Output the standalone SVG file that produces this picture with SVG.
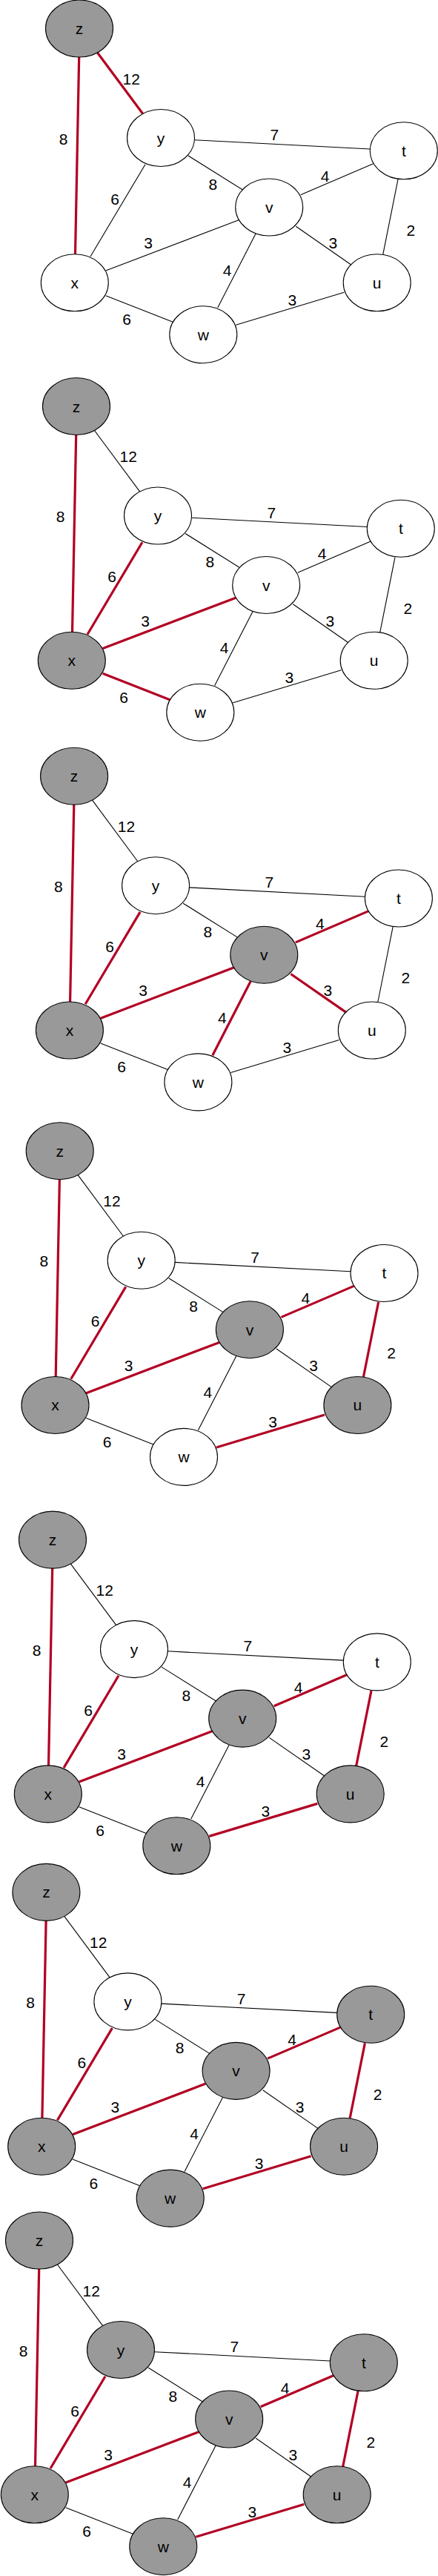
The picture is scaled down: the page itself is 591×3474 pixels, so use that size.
<svg xmlns="http://www.w3.org/2000/svg" width="591" height="3474" viewBox="0 0 591 3474">
<style>
.e{stroke:#000;stroke-width:1.1;fill:none}
.r{stroke:#B20023;stroke-width:3.2;fill:none}
.w{fill:#fff;stroke:#000;stroke-width:1.1}
.g{fill:#999;stroke:#000;stroke-width:1.1}
.l{font-family:"Liberation Sans",Arial,sans-serif;font-size:21px;fill:#000;text-anchor:middle}
.t{font-family:"Liberation Sans",Arial,sans-serif;font-size:21px;fill:#000;text-anchor:middle}
</style>
<rect width="591" height="3474" fill="#fff"/>

<!-- Panel 1 -->
<g id="p1" transform="translate(0,0)">
<g id="p1-edges">
<line class="r" x1="106.7" y1="76.5" x2="101.5" y2="343"/>
<line class="r" x1="130.7" y1="70" x2="193.3" y2="154.3"/>
<line class="e" x1="262.5" y1="188.7" x2="499.3" y2="201"/>
<line class="e" x1="254" y1="210" x2="327" y2="255.7"/>
<line class="e" x1="196" y1="221.7" x2="122" y2="346"/>
<line class="e" x1="405.7" y1="262.7" x2="503.7" y2="220.7"/>
<line class="e" x1="142.7" y1="365" x2="322" y2="296.7"/>
<line class="e" x1="399.3" y1="305.3" x2="473.3" y2="356.7"/>
<line class="e" x1="345" y1="315.3" x2="293.7" y2="415"/>
<line class="e" x1="537" y1="242" x2="516.7" y2="343.3"/>
<line class="e" x1="142.7" y1="398.7" x2="233.3" y2="434.3"/>
<line class="e" x1="318.3" y1="438.3" x2="464.3" y2="394.3"/>
<text class="l" x="177.3" y="113.5">12</text>
<text class="l" x="85.7" y="194.8">8</text>
<text class="l" x="370.3" y="189.2">7</text>
<text class="l" x="287.3" y="255.5">8</text>
<text class="l" x="155" y="275.8">6</text>
<text class="l" x="438.7" y="244.8">4</text>
<text class="l" x="200" y="335.2">3</text>
<text class="l" x="449.3" y="335.2">3</text>
<text class="l" x="554.3" y="318.2">2</text>
<text class="l" x="306.7" y="371.5">4</text>
<text class="l" x="394.3" y="411.8">3</text>
<text class="l" x="171" y="438.2">6</text>
</g>
<g id="p1-z"><ellipse class="g" cx="107" cy="38.5" rx="45.5" ry="38.5"/><text class="t" x="107" y="46">z</text></g>
<g id="p1-y"><ellipse class="w" cx="217" cy="186" rx="45.5" ry="38.5"/><text class="t" x="217" y="193.5">y</text></g>
<g id="p1-t"><ellipse class="w" cx="544.8" cy="203.3" rx="45.5" ry="38.5"/><text class="t" x="544.8" y="210.8">t</text></g>
<g id="p1-v"><ellipse class="w" cx="363.2" cy="279.5" rx="45.5" ry="38.5"/><text class="t" x="363.2" y="287">v</text></g>
<g id="p1-x"><ellipse class="w" cx="100.8" cy="381.3" rx="45.5" ry="38.5"/><text class="t" x="100.8" y="388.8">x</text></g>
<g id="p1-u"><ellipse class="w" cx="508.7" cy="381.3" rx="45.5" ry="38.5"/><text class="t" x="508.7" y="388.8">u</text></g>
<g id="p1-w"><ellipse class="w" cx="274.3" cy="451.2" rx="45.5" ry="38.5"/><text class="t" x="274.3" y="458.7">w</text></g>
</g>

<!-- Panel 2 -->
<g id="p2" transform="translate(-4,509.5)">
<g id="p2-edges">
<line class="r" x1="106.7" y1="76.5" x2="101.5" y2="343"/>
<line class="e" x1="130.7" y1="70" x2="193.3" y2="154.3"/>
<line class="e" x1="262.5" y1="188.7" x2="499.3" y2="201"/>
<line class="e" x1="254" y1="210" x2="327" y2="255.7"/>
<line class="r" x1="196" y1="221.7" x2="122" y2="346"/>
<line class="e" x1="405.7" y1="262.7" x2="503.7" y2="220.7"/>
<line class="r" x1="142.7" y1="365" x2="322" y2="296.7"/>
<line class="e" x1="399.3" y1="305.3" x2="473.3" y2="356.7"/>
<line class="e" x1="345" y1="315.3" x2="293.7" y2="415"/>
<line class="e" x1="537" y1="242" x2="516.7" y2="343.3"/>
<line class="r" x1="142.7" y1="398.7" x2="233.3" y2="434.3"/>
<line class="e" x1="318.3" y1="438.3" x2="464.3" y2="394.3"/>
<text class="l" x="177.3" y="113.5">12</text>
<text class="l" x="85.7" y="194.8">8</text>
<text class="l" x="370.3" y="189.2">7</text>
<text class="l" x="287.3" y="255.5">8</text>
<text class="l" x="155" y="275.8">6</text>
<text class="l" x="438.7" y="244.8">4</text>
<text class="l" x="200" y="335.2">3</text>
<text class="l" x="449.3" y="335.2">3</text>
<text class="l" x="554.3" y="318.2">2</text>
<text class="l" x="306.7" y="371.5">4</text>
<text class="l" x="394.3" y="411.8">3</text>
<text class="l" x="171" y="438.2">6</text>
</g>
<g id="p2-z"><ellipse class="g" cx="107" cy="38.5" rx="45.5" ry="38.5"/><text class="t" x="107" y="46">z</text></g>
<g id="p2-y"><ellipse class="w" cx="217" cy="186" rx="45.5" ry="38.5"/><text class="t" x="217" y="193.5">y</text></g>
<g id="p2-t"><ellipse class="w" cx="544.8" cy="203.3" rx="45.5" ry="38.5"/><text class="t" x="544.8" y="210.8">t</text></g>
<g id="p2-v"><ellipse class="w" cx="363.2" cy="279.5" rx="45.5" ry="38.5"/><text class="t" x="363.2" y="287">v</text></g>
<g id="p2-x"><ellipse class="g" cx="100.8" cy="381.3" rx="45.5" ry="38.5"/><text class="t" x="100.8" y="388.8">x</text></g>
<g id="p2-u"><ellipse class="w" cx="508.7" cy="381.3" rx="45.5" ry="38.5"/><text class="t" x="508.7" y="388.8">u</text></g>
<g id="p2-w"><ellipse class="w" cx="274.3" cy="451.2" rx="45.5" ry="38.5"/><text class="t" x="274.3" y="458.7">w</text></g>
</g>

<!-- Panel 3 -->
<g id="p3" transform="translate(-6.9,1008.2)">
<g id="p3-edges">
<line class="r" x1="106.7" y1="76.5" x2="101.5" y2="343"/>
<line class="e" x1="130.7" y1="70" x2="193.3" y2="154.3"/>
<line class="e" x1="262.5" y1="188.7" x2="499.3" y2="201"/>
<line class="e" x1="254" y1="210" x2="327" y2="255.7"/>
<line class="r" x1="196" y1="221.7" x2="122" y2="346"/>
<line class="r" x1="405.7" y1="262.7" x2="503.7" y2="220.7"/>
<line class="r" x1="142.7" y1="365" x2="322" y2="296.7"/>
<line class="r" x1="399.3" y1="305.3" x2="473.3" y2="356.7"/>
<line class="r" x1="345" y1="315.3" x2="293.7" y2="415"/>
<line class="e" x1="537" y1="242" x2="516.7" y2="343.3"/>
<line class="e" x1="142.7" y1="398.7" x2="233.3" y2="434.3"/>
<line class="e" x1="318.3" y1="438.3" x2="464.3" y2="394.3"/>
<text class="l" x="177.3" y="113.5">12</text>
<text class="l" x="85.7" y="194.8">8</text>
<text class="l" x="370.3" y="189.2">7</text>
<text class="l" x="287.3" y="255.5">8</text>
<text class="l" x="155" y="275.8">6</text>
<text class="l" x="438.7" y="244.8">4</text>
<text class="l" x="200" y="335.2">3</text>
<text class="l" x="449.3" y="335.2">3</text>
<text class="l" x="554.3" y="318.2">2</text>
<text class="l" x="306.7" y="371.5">4</text>
<text class="l" x="394.3" y="411.8">3</text>
<text class="l" x="171" y="438.2">6</text>
</g>
<g id="p3-z"><ellipse class="g" cx="107" cy="38.5" rx="45.5" ry="38.5"/><text class="t" x="107" y="46">z</text></g>
<g id="p3-y"><ellipse class="w" cx="217" cy="186" rx="45.5" ry="38.5"/><text class="t" x="217" y="193.5">y</text></g>
<g id="p3-t"><ellipse class="w" cx="544.8" cy="203.3" rx="45.5" ry="38.5"/><text class="t" x="544.8" y="210.8">t</text></g>
<g id="p3-v"><ellipse class="g" cx="363.2" cy="279.5" rx="45.5" ry="38.5"/><text class="t" x="363.2" y="287">v</text></g>
<g id="p3-x"><ellipse class="g" cx="100.8" cy="381.3" rx="45.5" ry="38.5"/><text class="t" x="100.8" y="388.8">x</text></g>
<g id="p3-u"><ellipse class="w" cx="508.7" cy="381.3" rx="45.5" ry="38.5"/><text class="t" x="508.7" y="388.8">u</text></g>
<g id="p3-w"><ellipse class="w" cx="274.3" cy="451.2" rx="45.5" ry="38.5"/><text class="t" x="274.3" y="458.7">w</text></g>
</g>

<!-- Panel 4 -->
<g id="p4" transform="translate(-26.3,1513.7)">
<g id="p4-edges">
<line class="r" x1="106.7" y1="76.5" x2="101.5" y2="343"/>
<line class="e" x1="130.7" y1="70" x2="193.3" y2="154.3"/>
<line class="e" x1="262.5" y1="188.7" x2="499.3" y2="201"/>
<line class="e" x1="254" y1="210" x2="327" y2="255.7"/>
<line class="r" x1="196" y1="221.7" x2="122" y2="346"/>
<line class="r" x1="405.7" y1="262.7" x2="503.7" y2="220.7"/>
<line class="r" x1="142.7" y1="365" x2="322" y2="296.7"/>
<line class="e" x1="399.3" y1="305.3" x2="473.3" y2="356.7"/>
<line class="e" x1="345" y1="315.3" x2="293.7" y2="415"/>
<line class="r" x1="537" y1="242" x2="516.7" y2="343.3"/>
<line class="e" x1="142.7" y1="398.7" x2="233.3" y2="434.3"/>
<line class="r" x1="318.3" y1="438.3" x2="464.3" y2="394.3"/>
<text class="l" x="177.3" y="113.5">12</text>
<text class="l" x="85.7" y="194.8">8</text>
<text class="l" x="370.3" y="189.2">7</text>
<text class="l" x="287.3" y="255.5">8</text>
<text class="l" x="155" y="275.8">6</text>
<text class="l" x="438.7" y="244.8">4</text>
<text class="l" x="200" y="335.2">3</text>
<text class="l" x="449.3" y="335.2">3</text>
<text class="l" x="554.3" y="318.2">2</text>
<text class="l" x="306.7" y="371.5">4</text>
<text class="l" x="394.3" y="411.8">3</text>
<text class="l" x="171" y="438.2">6</text>
</g>
<g id="p4-z"><ellipse class="g" cx="107" cy="38.5" rx="45.5" ry="38.5"/><text class="t" x="107" y="46">z</text></g>
<g id="p4-y"><ellipse class="w" cx="217" cy="186" rx="45.5" ry="38.5"/><text class="t" x="217" y="193.5">y</text></g>
<g id="p4-t"><ellipse class="w" cx="544.8" cy="203.3" rx="45.5" ry="38.5"/><text class="t" x="544.8" y="210.8">t</text></g>
<g id="p4-v"><ellipse class="g" cx="363.2" cy="279.5" rx="45.5" ry="38.5"/><text class="t" x="363.2" y="287">v</text></g>
<g id="p4-x"><ellipse class="g" cx="100.8" cy="381.3" rx="45.5" ry="38.5"/><text class="t" x="100.8" y="388.8">x</text></g>
<g id="p4-u"><ellipse class="g" cx="508.7" cy="381.3" rx="45.5" ry="38.5"/><text class="t" x="508.7" y="388.8">u</text></g>
<g id="p4-w"><ellipse class="w" cx="274.3" cy="451.2" rx="45.5" ry="38.5"/><text class="t" x="274.3" y="458.7">w</text></g>
</g>

<!-- Panel 5 -->
<g id="p5" transform="translate(-36,2038.1)">
<g id="p5-edges">
<line class="r" x1="106.7" y1="76.5" x2="101.5" y2="343"/>
<line class="e" x1="130.7" y1="70" x2="193.3" y2="154.3"/>
<line class="e" x1="262.5" y1="188.7" x2="499.3" y2="201"/>
<line class="e" x1="254" y1="210" x2="327" y2="255.7"/>
<line class="r" x1="196" y1="221.7" x2="122" y2="346"/>
<line class="r" x1="405.7" y1="262.7" x2="503.7" y2="220.7"/>
<line class="r" x1="142.7" y1="365" x2="322" y2="296.7"/>
<line class="e" x1="399.3" y1="305.3" x2="473.3" y2="356.7"/>
<line class="e" x1="345" y1="315.3" x2="293.7" y2="415"/>
<line class="r" x1="537" y1="242" x2="516.7" y2="343.3"/>
<line class="e" x1="142.7" y1="398.7" x2="233.3" y2="434.3"/>
<line class="r" x1="318.3" y1="438.3" x2="464.3" y2="394.3"/>
<text class="l" x="177.3" y="113.5">12</text>
<text class="l" x="85.7" y="194.8">8</text>
<text class="l" x="370.3" y="189.2">7</text>
<text class="l" x="287.3" y="255.5">8</text>
<text class="l" x="155" y="275.8">6</text>
<text class="l" x="438.7" y="244.8">4</text>
<text class="l" x="200" y="335.2">3</text>
<text class="l" x="449.3" y="335.2">3</text>
<text class="l" x="554.3" y="318.2">2</text>
<text class="l" x="306.7" y="371.5">4</text>
<text class="l" x="394.3" y="411.8">3</text>
<text class="l" x="171" y="438.2">6</text>
</g>
<g id="p5-z"><ellipse class="g" cx="107" cy="38.5" rx="45.5" ry="38.5"/><text class="t" x="107" y="46">z</text></g>
<g id="p5-y"><ellipse class="w" cx="217" cy="186" rx="45.5" ry="38.5"/><text class="t" x="217" y="193.5">y</text></g>
<g id="p5-t"><ellipse class="w" cx="544.8" cy="203.3" rx="45.5" ry="38.5"/><text class="t" x="544.8" y="210.8">t</text></g>
<g id="p5-v"><ellipse class="g" cx="363.2" cy="279.5" rx="45.5" ry="38.5"/><text class="t" x="363.2" y="287">v</text></g>
<g id="p5-x"><ellipse class="g" cx="100.8" cy="381.3" rx="45.5" ry="38.5"/><text class="t" x="100.8" y="388.8">x</text></g>
<g id="p5-u"><ellipse class="g" cx="508.7" cy="381.3" rx="45.5" ry="38.5"/><text class="t" x="508.7" y="388.8">u</text></g>
<g id="p5-w"><ellipse class="g" cx="274.3" cy="451.2" rx="45.5" ry="38.5"/><text class="t" x="274.3" y="458.7">w</text></g>
</g>

<!-- Panel 6 -->
<g id="p6" transform="translate(-44.6,2513.4)">
<g id="p6-edges">
<line class="r" x1="106.7" y1="76.5" x2="101.5" y2="343"/>
<line class="e" x1="130.7" y1="70" x2="193.3" y2="154.3"/>
<line class="e" x1="262.5" y1="188.7" x2="499.3" y2="201"/>
<line class="e" x1="254" y1="210" x2="327" y2="255.7"/>
<line class="r" x1="196" y1="221.7" x2="122" y2="346"/>
<line class="r" x1="405.7" y1="262.7" x2="503.7" y2="220.7"/>
<line class="r" x1="142.7" y1="365" x2="322" y2="296.7"/>
<line class="e" x1="399.3" y1="305.3" x2="473.3" y2="356.7"/>
<line class="e" x1="345" y1="315.3" x2="293.7" y2="415"/>
<line class="r" x1="537" y1="242" x2="516.7" y2="343.3"/>
<line class="e" x1="142.7" y1="398.7" x2="233.3" y2="434.3"/>
<line class="r" x1="318.3" y1="438.3" x2="464.3" y2="394.3"/>
<text class="l" x="177.3" y="113.5">12</text>
<text class="l" x="85.7" y="194.8">8</text>
<text class="l" x="370.3" y="189.2">7</text>
<text class="l" x="287.3" y="255.5">8</text>
<text class="l" x="155" y="275.8">6</text>
<text class="l" x="438.7" y="244.8">4</text>
<text class="l" x="200" y="335.2">3</text>
<text class="l" x="449.3" y="335.2">3</text>
<text class="l" x="554.3" y="318.2">2</text>
<text class="l" x="306.7" y="371.5">4</text>
<text class="l" x="394.3" y="411.8">3</text>
<text class="l" x="171" y="438.2">6</text>
</g>
<g id="p6-z"><ellipse class="g" cx="107" cy="38.5" rx="45.5" ry="38.5"/><text class="t" x="107" y="46">z</text></g>
<g id="p6-y"><ellipse class="w" cx="217" cy="186" rx="45.5" ry="38.5"/><text class="t" x="217" y="193.5">y</text></g>
<g id="p6-t"><ellipse class="g" cx="544.8" cy="203.3" rx="45.5" ry="38.5"/><text class="t" x="544.8" y="210.8">t</text></g>
<g id="p6-v"><ellipse class="g" cx="363.2" cy="279.5" rx="45.5" ry="38.5"/><text class="t" x="363.2" y="287">v</text></g>
<g id="p6-x"><ellipse class="g" cx="100.8" cy="381.3" rx="45.5" ry="38.5"/><text class="t" x="100.8" y="388.8">x</text></g>
<g id="p6-u"><ellipse class="g" cx="508.7" cy="381.3" rx="45.5" ry="38.5"/><text class="t" x="508.7" y="388.8">u</text></g>
<g id="p6-w"><ellipse class="g" cx="274.3" cy="451.2" rx="45.5" ry="38.5"/><text class="t" x="274.3" y="458.7">w</text></g>
</g>

<!-- Panel 7 -->
<g id="p7" transform="translate(-54,2983)">
<g id="p7-edges">
<line class="r" x1="106.7" y1="76.5" x2="101.5" y2="343"/>
<line class="e" x1="130.7" y1="70" x2="193.3" y2="154.3"/>
<line class="e" x1="262.5" y1="188.7" x2="499.3" y2="201"/>
<line class="e" x1="254" y1="210" x2="327" y2="255.7"/>
<line class="r" x1="196" y1="221.7" x2="122" y2="346"/>
<line class="r" x1="405.7" y1="262.7" x2="503.7" y2="220.7"/>
<line class="r" x1="142.7" y1="365" x2="322" y2="296.7"/>
<line class="e" x1="399.3" y1="305.3" x2="473.3" y2="356.7"/>
<line class="e" x1="345" y1="315.3" x2="293.7" y2="415"/>
<line class="r" x1="537" y1="242" x2="516.7" y2="343.3"/>
<line class="e" x1="142.7" y1="398.7" x2="233.3" y2="434.3"/>
<line class="r" x1="318.3" y1="438.3" x2="464.3" y2="394.3"/>
<text class="l" x="177.3" y="113.5">12</text>
<text class="l" x="85.7" y="194.8">8</text>
<text class="l" x="370.3" y="189.2">7</text>
<text class="l" x="287.3" y="255.5">8</text>
<text class="l" x="155" y="275.8">6</text>
<text class="l" x="438.7" y="244.8">4</text>
<text class="l" x="200" y="335.2">3</text>
<text class="l" x="449.3" y="335.2">3</text>
<text class="l" x="554.3" y="318.2">2</text>
<text class="l" x="306.7" y="371.5">4</text>
<text class="l" x="394.3" y="411.8">3</text>
<text class="l" x="171" y="438.2">6</text>
</g>
<g id="p7-z"><ellipse class="g" cx="107" cy="38.5" rx="45.5" ry="38.5"/><text class="t" x="107" y="46">z</text></g>
<g id="p7-y"><ellipse class="g" cx="217" cy="186" rx="45.5" ry="38.5"/><text class="t" x="217" y="193.5">y</text></g>
<g id="p7-t"><ellipse class="g" cx="544.8" cy="203.3" rx="45.5" ry="38.5"/><text class="t" x="544.8" y="210.8">t</text></g>
<g id="p7-v"><ellipse class="g" cx="363.2" cy="279.5" rx="45.5" ry="38.5"/><text class="t" x="363.2" y="287">v</text></g>
<g id="p7-x"><ellipse class="g" cx="100.8" cy="381.3" rx="45.5" ry="38.5"/><text class="t" x="100.8" y="388.8">x</text></g>
<g id="p7-u"><ellipse class="g" cx="508.7" cy="381.3" rx="45.5" ry="38.5"/><text class="t" x="508.7" y="388.8">u</text></g>
<g id="p7-w"><ellipse class="g" cx="274.3" cy="451.2" rx="45.5" ry="38.5"/><text class="t" x="274.3" y="458.7">w</text></g>
</g>
</svg>
